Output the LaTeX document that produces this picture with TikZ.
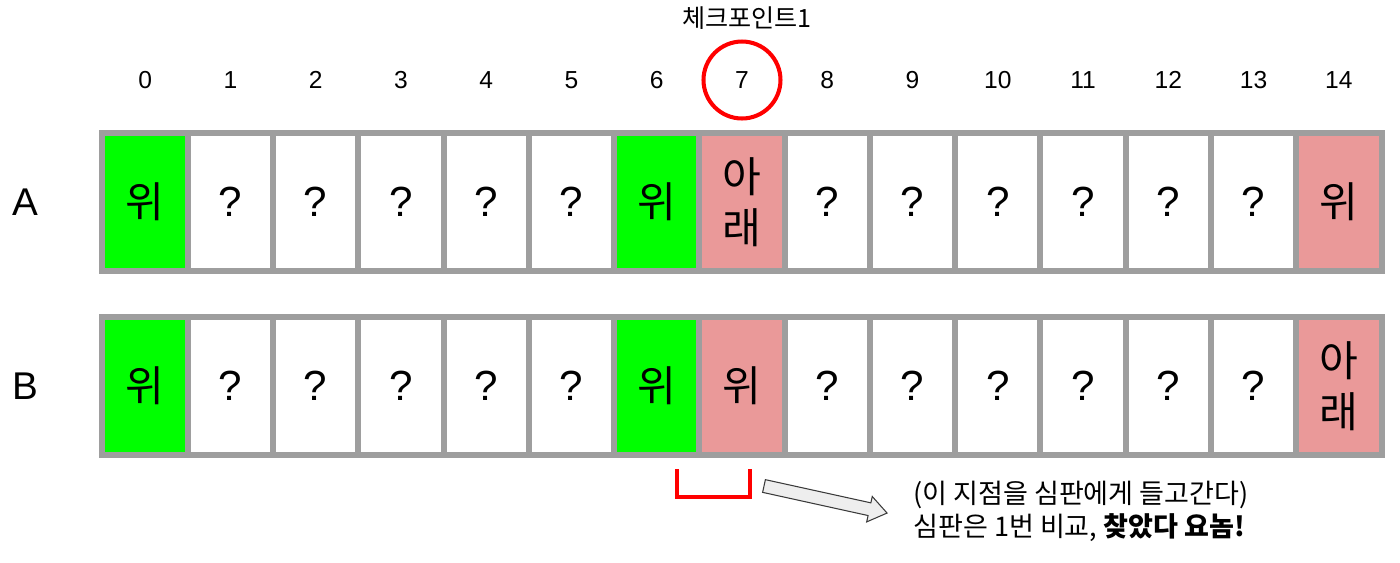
\documentclass[tikz,border=0pt]{standalone}
\usepackage{fontspec}
\setmainfont{Liberation Sans}
\newfontfamily\kr{Noto Sans CJK KR}
\usepackage{xcolor}
\usepackage{tikz}
\usetikzlibrary{calc}
\definecolor{bg}{HTML}{FFFFFF}
\definecolor{text}{HTML}{000000}
\definecolor{upcol}{HTML}{00FF00}
\definecolor{downcol}{HTML}{EA9999}
\definecolor{grid}{HTML}{9E9E9E}
\definecolor{alert}{HTML}{FF0000}
\definecolor{arrowfill}{HTML}{EEEEEE}
\definecolor{arrowline}{HTML}{3A3A3A}
\tikzset{
  cell/.style={draw=grid, fill=bg, line width=3.4pt, minimum width=1.7054cm, minimum height=2.76cm,
    inner sep=0pt, align=center, text=text, font=\fontsize{24}{29}\selectfont},
  up/.style={cell, fill=upcol},
  down/.style={cell, fill=downcol},
  idx/.style={text=text, font=\fontsize{14}{14}\selectfont},
  rowlab/.style={text=text, font=\fontsize{22}{22}\selectfont},
  ring/.style={circle, draw=alert, line width=2.3pt, minimum size=1.54cm, inner sep=0pt},
  brk/.style={draw=alert, line width=2.3pt},
  blk/.style={draw=arrowline, fill=arrowfill, line width=0.6pt, line join=miter},
  note/.style={text=text, align=left, inner sep=0pt, font=\kr\fontsize{15.4}{18.7}\selectfont},
  tag/.style={text=text, font=\kr\fontsize{14.3}{14.3}\selectfont},
}
\begin{document}
\begin{tikzpicture}[x=0.02cm, y=-0.02cm]
  \useasboundingbox (0,0) rectangle (1400,562);
  % index row
  \foreach \i in {0,...,14}
    \node[idx] (n\i) at ({145.1+85.27*\i},80) {\i};
  \node[ring] (ck) at (n7) {};
  \node[tag] (cklab) at (747,18) {체크포인트1};
  % rows A and B
  \node[rowlab] (labA) at (25,202) {A};
  \node[rowlab] (labB) at (25,386) {B};
  \foreach \i/\st/\ta/\tb in {0/up/{\kr 위}/{\kr 위}, 1/cell/?/?, 2/cell/?/?, 3/cell/?/?, 4/cell/?/?,
      5/cell/?/?, 6/up/{\kr 위}/{\kr 위}, 7/down/{\kr 아\\\kr 래}/{\kr 위}, 8/cell/?/?, 9/cell/?/?,
      10/cell/?/?, 11/cell/?/?, 12/cell/?/?, 13/cell/?/?, 14/down/{\kr 위}/{\kr 아\\\kr 래}} {
    \node[\st] (A\i) at ({145.1+85.27*\i},202) {\ta};
    \node[\st] (B\i) at ({145.1+85.27*\i},386) {\tb};
  }
  % bracket under 6|7
  \coordinate (brL) at (677,469);
  \coordinate (brR) at (750,469);
  \draw[brk] (brL) -- (677,497) -- (750,497) -- (brR);
  % block arrow
  \begin{scope}[shift={(764,486)}, rotate=-12.4]
    \draw[blk] (0,-6.5) -- (108,-6.5) -- (108,-13) -- (126,0) -- (108,13) -- (108,6.5) -- (0,6.5) -- cycle;
  \end{scope}
  \node[note, anchor=west] (note) at (913,511) {(이 지점을 심판에게 들고간다)\\심판은 1번 비교, \textbf{찾았다 요놈!}};
\end{tikzpicture}
\end{document}
